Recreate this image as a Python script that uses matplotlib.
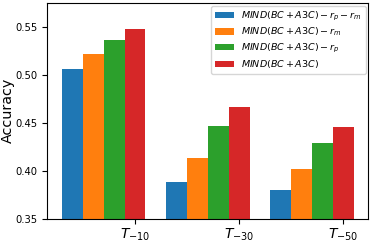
import numpy as np
import matplotlib
matplotlib.use("Agg")
import matplotlib.pyplot as plt

# ==========================================
# DATA
# ==========================================

tick_labels = ["$T_{-10}$", "$T_{-30}$", "$T_{-50}$"]

series_labels = [
    "$MIND(BC+A3C)-r_p-r_m$",
    "$MIND(BC+A3C)-r_m$",
    "$MIND(BC+A3C)-r_p$",
    "$MIND(BC+A3C)$",
]

no_rp_rm = [0.506, 0.388, 0.380]
no_rm = [0.522, 0.413, 0.402]
no_rp = [0.537, 0.447, 0.429]
full = [0.548, 0.467, 0.446]

colors = ["#1f77b4", "#ff7f0e", "#2ca02c", "#d62728"]

# ==========================================
# CHART
# ==========================================

x = np.arange(len(tick_labels))
width = 0.2

plt.figure(figsize=(3.74, 2.45), dpi=100)

for i, values in enumerate([no_rp_rm, no_rm, no_rp, full]):
    plt.bar(
        x + i * width,
        values,
        width,
        color=colors[i],
        label=series_labels[i]
    )

plt.xticks(x + 3 * width, tick_labels, fontsize=10)
plt.tick_params(axis="x", pad=2)
plt.yticks(fontsize=7.2)

plt.ylim(0.35, max(full) * 1.05)

plt.ylabel("Accuracy", fontsize=10.3, labelpad=0.5)

plt.legend(loc="upper right", fontsize=6.8, labelspacing=0.35,
           borderaxespad=0.3)

plt.subplots_adjust(left=0.127, right=0.985, top=0.988, bottom=0.107)

plt.savefig("out.png", dpi=100)
